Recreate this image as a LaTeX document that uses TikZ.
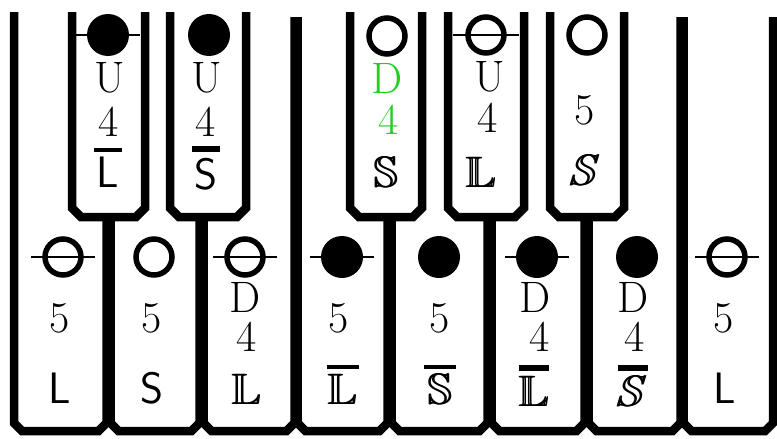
\documentclass[tikz,border=0pt]{standalone}
\usepackage{fontspec}
\usepackage{amssymb}
\usetikzlibrary{calc}
\definecolor{keygreen}{RGB}{35,205,35}
% outlined letter, thickened by a second copy
\newcommand{\hollowltr}[2][0.8pt]{\rlap{$\mathbb{#2}$}\kern#1$\mathbb{#2}$}
\tikzset{
  keyline/.style={line width=8.5pt},
  dotfull/.style={circle, fill=black, minimum size=42pt, inner sep=0pt},
  dotopen/.style={circle, draw=black, line width=5.5pt, minimum size=36pt, inner sep=0pt},
  crossbar/.style={line width=2pt},
  overbar/.style={line width=3.5pt},
  overbarthick/.style={line width=6pt},
  romtxt/.style={inner sep=0pt, font=\fontsize{44}{44}\selectfont},
  sanstxt/.style={inner sep=0pt, font=\fontsize{44}{44}\selectfont\sffamily},
  bbtxt/.style={inner sep=0pt, font=\fontsize{44}{44}\selectfont},
  swirltxt/.style={bbtxt, xslant=0.3, transform shape}
}
\begin{document}
\begin{tikzpicture}[x=1pt, y=-1pt]
  \useasboundingbox (0,0) rectangle (777,439);
  % white keys
  \foreach \l/\r/\tl/\tr in {14/106.5/12/217, 110.5/199.5/217/217, 203.5/294.5/217/17, 297.5/387.5/17/217,
      391.5/487.5/217/217, 491.5/584.5/217/217, 588.5/680.5/217/17, 683.5/773/17/17}
    \draw[keyline] (\l,\tl) -- (\l,423) -- (\l+8,431) -- (\r-8,431) -- (\r,423) -- (\r,\tr);
  % black keys
  \foreach \l/\r in {72/145, 170/246, 350/422, 448/524, 550/624}
    \draw[keyline] (\l,12) -- (\l,208) -- (\l+9,217) -- (\r-9,217) -- (\r,208) -- (\r,12);

  % black key 1
  \node[dotfull] (bk1dot) at (108,35) {};
  \draw[crossbar] ($(bk1dot)+(-32,0)$) -- ($(bk1dot)+(32,0)$);
  \node[romtxt] (bk1dir) at (110,78) {U};
  \node[romtxt] (bk1oct) at (109,122) {4};
  \node[sanstxt] (bk1hand) at (108,172) {L};
  \draw[overbar] ($(bk1hand)+(-14,-22)$) -- ($(bk1hand)+(14,-22)$);
  % black key 2
  \node[dotfull] (bk2dot) at (209,35) {};
  \node[romtxt] (bk2dir) at (207,78) {U};
  \node[romtxt] (bk2oct) at (206,122) {4};
  \node[sanstxt] (bk2hand) at (206,174) {S};
  \draw[overbarthick] ($(bk2hand)+(-14,-25)$) -- ($(bk2hand)+(14,-25)$);
  % black key 3
  \node[dotopen] (bk3dot) at (387,36) {};
  \node[romtxt, text=keygreen] (bk3dir) at (387,78) {D};
  \node[romtxt, text=keygreen] (bk3oct) at (389,120) {4};
  \node[bbtxt] (bk3hand) at (386,172) {\hollowltr{S}};
  % black key 4
  \node[dotopen] (bk4dot) at (486,35) {};
  \draw[crossbar] ($(bk4dot)+(-33,0)$) -- ($(bk4dot)+(33,0)$);
  \node[romtxt] (bk4dir) at (490,77) {U};
  \node[romtxt] (bk4oct) at (488,118) {4};
  \node[bbtxt] (bk4hand) at (481,172) {\hollowltr[1.6pt]{L}};
  % black key 5
  \node[dotopen] (bk5dot) at (587,35) {};
  \node[romtxt] (bk5oct) at (585,110) {5};
  \node[swirltxt] (bk5hand) at (586,170) {\hollowltr{S}};

  % white key 1
  \node[dotopen] (wk1dot) at (63,257) {};
  \draw[crossbar] ($(wk1dot)+(-32,0)$) -- ($(wk1dot)+(32,0)$);
  \node[romtxt] (wk1oct) at (60,318) {5};
  \node[sanstxt] (wk1hand) at (60,388) {L};
  % white key 2
  \node[dotopen] (wk2dot) at (154,257) {};
  \node[romtxt] (wk2oct) at (152,318) {5};
  \node[sanstxt] (wk2hand) at (152,388) {S};
  % white key 3
  \node[dotopen] (wk3dot) at (245,257) {};
  \draw[crossbar] ($(wk3dot)+(-32,0)$) -- ($(wk3dot)+(32,0)$);
  \node[romtxt] (wk3dir) at (245,297) {D};
  \node[romtxt] (wk3oct) at (247,337) {4};
  \node[bbtxt] (wk3hand) at (247,389) {\hollowltr{L}};
  % white key 4
  \node[dotfull] (wk4dot) at (342,257) {};
  \draw[crossbar] ($(wk4dot)+(-32,0)$) -- ($(wk4dot)+(32,0)$);
  \node[romtxt] (wk4oct) at (339,318) {5};
  \node[bbtxt] (wk4hand) at (343,389) {\hollowltr{L}};
  \draw[overbar] ($(wk4hand)+(-16,-22)$) -- ($(wk4hand)+(16,-22)$);
  % white key 5
  \node[dotfull] (wk5dot) at (439,257) {};
  \node[romtxt] (wk5oct) at (440,318) {5};
  \node[bbtxt] (wk5hand) at (440,389) {\hollowltr{S}};
  \draw[overbar] ($(wk5hand)+(-16,-22)$) -- ($(wk5hand)+(16,-22)$);
  % white key 6
  \node[dotfull] (wk6dot) at (537,257) {};
  \draw[crossbar] ($(wk6dot)+(-32,0)$) -- ($(wk6dot)+(32,0)$);
  \node[romtxt] (wk6dir) at (535,297) {D};
  \node[romtxt] (wk6oct) at (540,337) {4};
  \node[bbtxt] (wk6hand) at (534,391) {\hollowltr[1.6pt]{L}};
  \draw[overbarthick] ($(wk6hand)+(-15,-23)$) -- ($(wk6hand)+(15,-23)$);
  % white key 7
  \node[dotfull] (wk7dot) at (637,257) {};
  \node[romtxt] (wk7dir) at (633,297) {D};
  \node[romtxt] (wk7oct) at (635,337) {4};
  \node[swirltxt] (wk7hand) at (633,391) {\hollowltr{S}};
  \draw[overbarthick] ($(wk7hand)+(-15,-23)$) -- ($(wk7hand)+(15,-23)$);
  % white key 8
  \node[dotopen] (wk8dot) at (727,257) {};
  \draw[crossbar] ($(wk8dot)+(-32,0)$) -- ($(wk8dot)+(32,0)$);
  \node[romtxt] (wk8oct) at (724,318) {5};
  \node[sanstxt] (wk8hand) at (725,388) {L};
\end{tikzpicture}
\end{document}
